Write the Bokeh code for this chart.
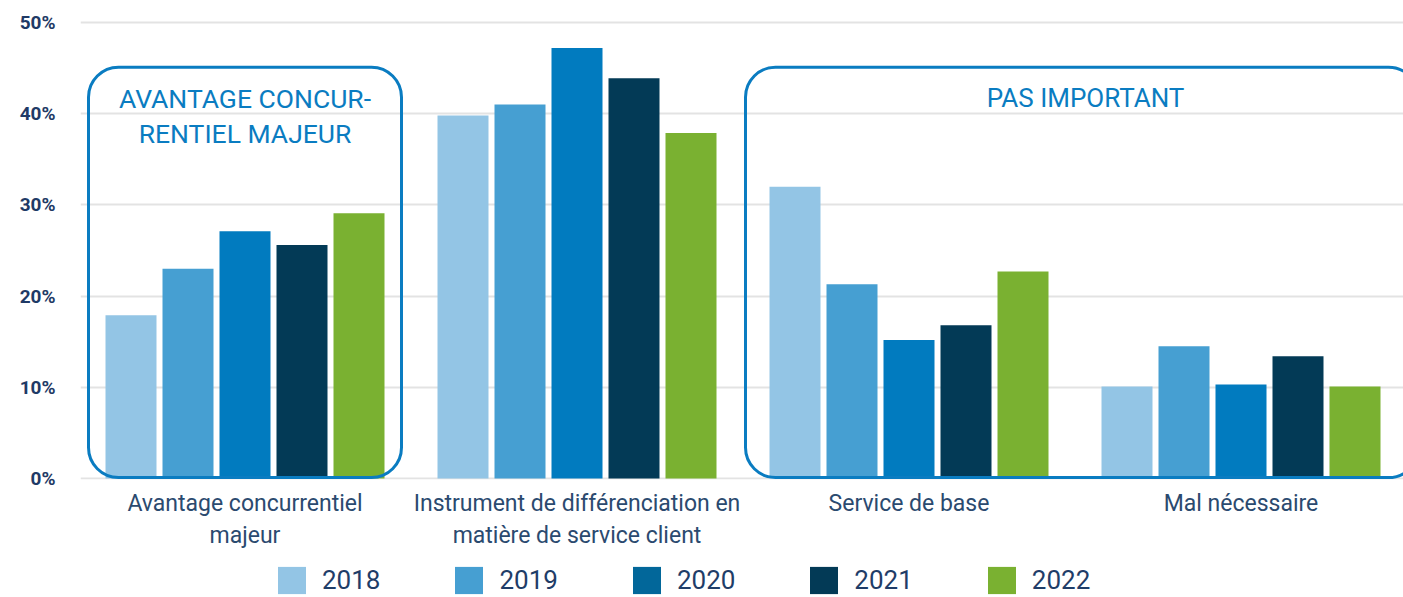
from bokeh.plotting import figure
from bokeh.layouts import column
from bokeh.models import Range1d, FixedTicker, BoxAnnotation, Label, Legend, LegendItem, ColumnDataSource
from bokeh.transform import dodge
from bokeh.embed import file_html
from bokeh.resources import INLINE

# ---- data ----
categories = [
    "Avantage concurrentiel\nmajeur",
    "Instrument de différenciation en\nmatière de service client",
    "Service de base",
    "Mal nécessaire",
]
years = ["2018", "2019", "2020", "2021", "2022"]
v2018 = [17.9, 39.8, 32.0, 10.1]
v2019 = [23.0, 41.0, 21.3, 14.5]
v2020 = [27.1, 47.2, 15.2, 10.3]
v2021 = [25.6, 43.9, 16.8, 13.4]
v2022 = [29.1, 37.9, 22.7, 10.1]
y_ticks = [0, 10, 20, 30, 40, 50]
y_tick_labels = ["0%", "10%", "20%", "30%", "40%", "50%"]
box1_lines = ["AVANTAGE CONCUR-", "RENTIEL MAJEUR"]
box2_lines = ["PAS IMPORTANT"]

bar_colors = ["#93c5e5", "#469fd2", "#017bbf", "#033a56", "#7ab131"]
legend_colors = ["#93c5e5", "#469fd2", "#02679a", "#033a56", "#7ab131"]

pos = list(range(len(categories)))
src = ColumnDataSource(dict(x=pos, y2018=v2018, y2019=v2019, y2020=v2020,
                            y2021=v2021, y2022=v2022))

PX = 332.0  # pixels per category unit
C0 = 244.5  # pixel x of first category centre
p = figure(width=1403, height=563, output_backend="svg",
           toolbar_location=None,
           x_range=Range1d((80 - C0) / PX, (1403 - C0) / PX),
           y_range=Range1d(-0.11, 51.54),
           min_border_left=80, min_border_right=0, min_border_top=8,
           min_border_bottom=84, background_fill_color="white",
           border_fill_color="white")
p.outline_line_color = None

offsets = [-114 / PX, -57 / PX, 0, 57 / PX, 114 / PX]
bw = 51 / PX
series = ["y2018", "y2019", "y2020", "y2021", "y2022"]
for i, s in enumerate(series):
    p.vbar(x=dodge("x", offsets[i]), top=s, width=bw, bottom=0, source=src,
           fill_color=bar_colors[i], line_color=None)

# boxes
box_color = "#0a7cc1"
b1 = BoxAnnotation(left=(88 - C0) / PX, right=(401 - C0) / PX,
                   bottom=0.1, top=45.1, fill_alpha=0, line_color=box_color,
                   line_alpha=1, line_width=3, border_radius=30)
b2 = BoxAnnotation(left=(745 - C0) / PX, right=(1418 - C0) / PX,
                   bottom=0.1, top=45.1, fill_alpha=0, line_color=box_color,
                   line_alpha=1, line_width=3, border_radius=30)
p.add_layout(b1)
p.add_layout(b2)

font = "Roboto"
for txt, yv in zip(box1_lines, [41.67, 37.83]):
    p.add_layout(Label(x=0, y=yv, text=txt, text_align="center",
                       text_baseline="middle", text_font=font,
                       text_font_size="26.5px", text_color=box_color))
for txt in box2_lines:
    p.add_layout(Label(x=(1085 - C0) / PX, y=41.78, text=txt, text_align="center",
                       text_baseline="middle", text_font=font,
                       text_font_size="26px", text_color=box_color))

# axes
p.xaxis.ticker = FixedTicker(ticks=pos)
p.xaxis.major_label_overrides = {i: c for i, c in enumerate(categories)}
p.xaxis.axis_line_color = None
p.xaxis.major_tick_line_color = None
p.xaxis.minor_tick_line_color = None
p.xaxis.major_label_text_font = font
p.xaxis.major_label_text_font_size = "23px"
p.xaxis.major_label_text_color = "#2b4a6f"
p.xaxis.major_label_text_line_height = 1.19
p.xaxis.major_label_standoff = 4

p.yaxis.ticker = FixedTicker(ticks=y_ticks)
p.yaxis.major_label_overrides = {t: l for t, l in zip(y_ticks, y_tick_labels)}
p.yaxis.axis_line_color = None
p.yaxis.major_tick_line_color = None
p.yaxis.minor_tick_line_color = None
p.yaxis.major_tick_out = 0
p.yaxis.major_tick_in = 0
p.yaxis.major_label_text_font = font
p.yaxis.major_label_text_font_style = "bold"
p.yaxis.major_label_text_font_size = "19px"
p.yaxis.major_label_text_color = "#1f3a66"
p.yaxis.major_label_standoff = 25

p.xgrid.visible = False
p.ygrid.ticker = FixedTicker(ticks=y_ticks)
p.ygrid.grid_line_color = "#e3e3e3"
p.ygrid.grid_line_width = 2

# legend strip (separate small figure below the chart)
pl = figure(width=1403, height=34, output_backend="svg", toolbar_location=None,
            x_range=Range1d(0, 1), y_range=Range1d(0, 1),
            x_axis_type=None, y_axis_type=None,
            min_border_left=80, min_border_right=0, min_border_top=0,
            min_border_bottom=0, background_fill_color="white",
            border_fill_color="white")
pl.outline_line_color = None
pl.xgrid.visible = False
pl.ygrid.visible = False
items = []
for i, yr in enumerate(years):
    # swatch renderers placed outside the visible range; only their legend glyph shows
    r_leg = pl.vbar(x=[10], top=[1], width=0.1, fill_color=legend_colors[i], line_color=None)
    items.append(LegendItem(label=yr, renderers=[r_leg]))

legend = Legend(items=items, orientation="horizontal", location=(274 - 80, 0),
                glyph_width=35, glyph_height=34, label_standoff=13,
                label_width=58, label_height=34, spacing=71, padding=0, margin=0,
                border_line_alpha=0, background_fill_alpha=0,
                label_text_font=font, label_text_font_size="26px",
                label_text_color="#1f3d68", label_text_baseline="middle")
pl.add_layout(legend, "center")

layout = column(p, pl, spacing=0)
open("out.html", "w").write(file_html(layout, INLINE))
